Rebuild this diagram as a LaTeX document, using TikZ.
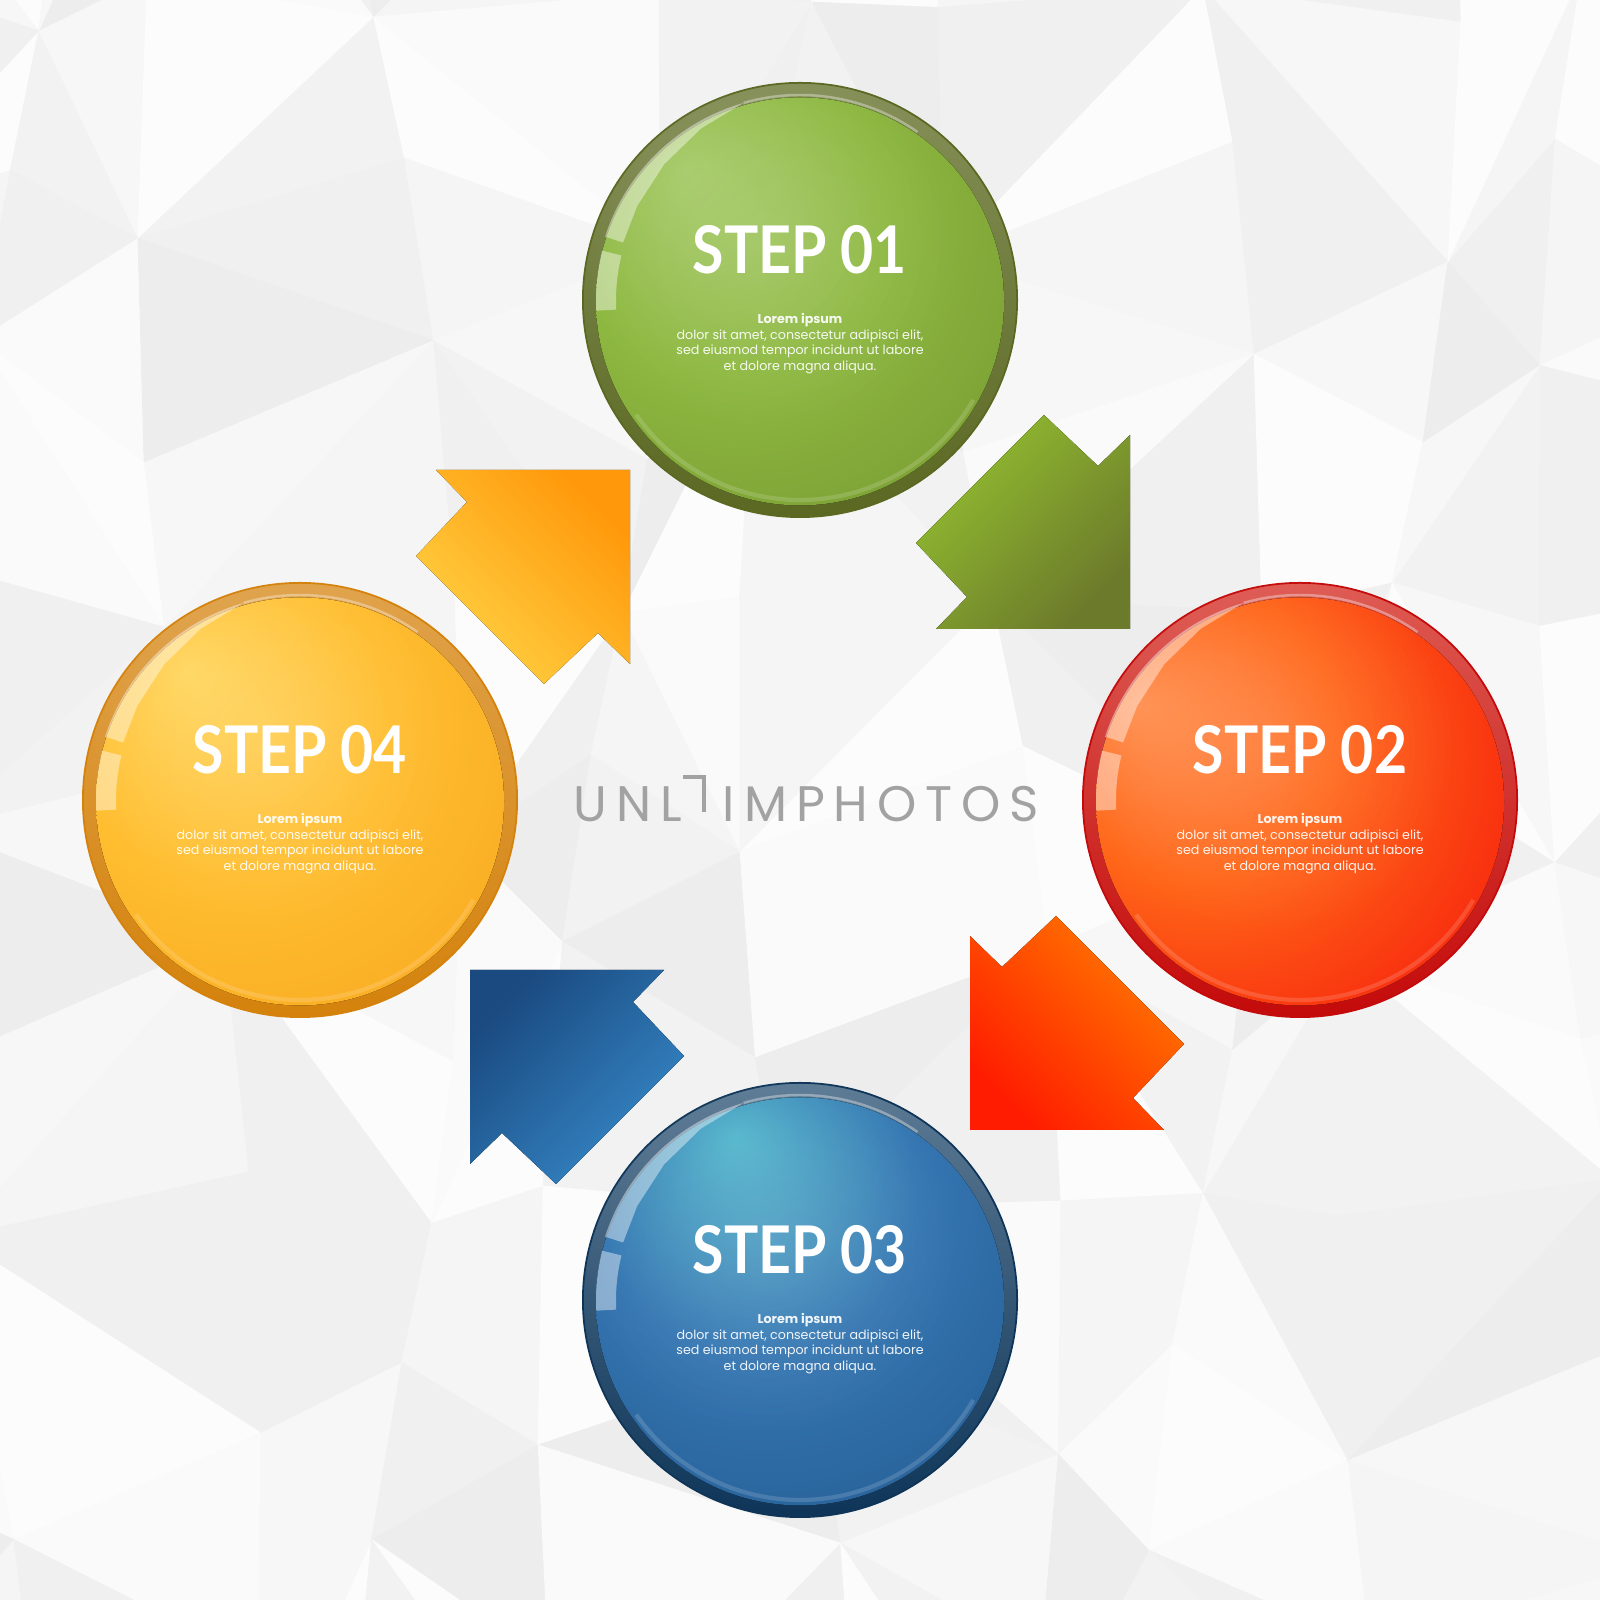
\documentclass[tikz,border=0pt]{standalone}
\usepackage{fontspec}
\setmainfont{Poppins}
\newfontfamily\stepfont[FakeStretch=0.87]{Lato}
\newfontfamily\wmfont[LetterSpace=18]{Poppins}
\usetikzlibrary{fadings}
\tikzfading[name=glowfade, inner color=transparent!0, outer color=transparent!100]
\definecolor{wmgray}{HTML}{A2A2A2}
% arrows
\definecolor{yarrA}{HTML}{FF980A}\definecolor{yarrB}{HTML}{FFD244}
\definecolor{garrA}{HTML}{92BE30}\definecolor{garrB}{HTML}{6C7A2B}
\definecolor{rarrA}{HTML}{FF7A00}\definecolor{rarrB}{HTML}{FF1C00}
\definecolor{barrA}{HTML}{1A4A80}\definecolor{barrB}{HTML}{3688C8}
% spheres
\definecolor{gRimT}{HTML}{858F58}\definecolor{gRimB}{HTML}{5A6822}
\definecolor{gTop}{HTML}{A6CA68}\definecolor{gMid}{HTML}{8DB840}\definecolor{gBot}{HTML}{789A32}\definecolor{gEdge}{HTML}{62792A}
\definecolor{rRimT}{HTML}{DE5A52}\definecolor{rRimB}{HTML}{C40A0A}
\definecolor{rTop}{HTML}{FF9050}\definecolor{rMid}{HTML}{FF6618}\definecolor{rBot}{HTML}{F82A0E}\definecolor{rEdge}{HTML}{DE1008}
\definecolor{bRimT}{HTML}{5C7A94}\definecolor{bRimB}{HTML}{0E3558}
\definecolor{bTop}{HTML}{52B6CC}\definecolor{bMid}{HTML}{3576B2}\definecolor{bBot}{HTML}{245C92}\definecolor{bEdge}{HTML}{1A4676}
\definecolor{yRimT}{HTML}{E0A24A}\definecolor{yRimB}{HTML}{D4820C}
\definecolor{yTop}{HTML}{FFD65E}\definecolor{yMid}{HTML}{FFBE30}\definecolor{yBot}{HTML}{F8A820}\definecolor{yEdge}{HTML}{EA9812}
\pgfdeclareradialshading{gball}{\pgfpoint{-14bp}{16bp}}{color(0bp)=(gTop); color(20bp)=(gMid); color(42bp)=(gBot); color(62bp)=(gEdge)}
\pgfdeclareradialshading{rball}{\pgfpoint{-20bp}{12bp}}{color(0bp)=(rTop); color(18bp)=(rMid); color(36bp)=(rBot); color(56bp)=(rEdge)}
\pgfdeclareradialshading{bball}{\pgfpoint{-8bp}{20bp}}{color(0bp)=(bTop); color(20bp)=(bMid); color(42bp)=(bBot); color(62bp)=(bEdge)}
\pgfdeclareradialshading{yball}{\pgfpoint{-14bp}{16bp}}{color(0bp)=(yTop); color(20bp)=(yMid); color(42bp)=(yBot); color(62bp)=(yEdge)}

\tikzset{
  ballrim/.style={circle, minimum size=4.34cm, inner sep=0pt, outer sep=0pt},
  steplabel/.style={text=white, font=\stepfont\bfseries\fontsize{18.7}{20}\selectfont, anchor=base, inner sep=0pt},
  bodytext/.style={text=white, text opacity=0.92, font=\fontsize{3.6}{4.4}\selectfont, align=center, anchor=north, inner sep=0pt},
  wmark/.style={text=wmgray, font=\wmfont\fontsize{14.2}{15}\selectfont, inner sep=0pt},
  glosshi/.style={white, opacity=0.42},
}

\newcommand\glossball[6]{%
  % #1 name, #2 centre, #3 rim top, #4 rim bottom, #5 ball shading, #6 number
  \node[ballrim, top color=#3, bottom color=#4, draw=#4, line width=0.5pt] (#1) at (#2) {};
  \fill[shading=#5] ([yshift=-0.4pt]#1.center) circle (204);
  \fill[white, opacity=0.12, path fading=glowfade] ([shift={(-30,55)}]#1.center) circle (190);
  \fill[glosshi] ([shift={(106:205)}]#1.center) arc[start angle=106,end angle=162,radius=205]
     -- ([shift={(162:186)}]#1.center) -- ([shift={(150:188)}]#1.center) -- ([shift={(135:192)}]#1.center)
     -- ([shift={(120:198)}]#1.center) -- cycle;
  \fill[glosshi] ([shift={(166:204)}]#1.center) arc[start angle=166,end angle=183,radius=204]
     -- ([shift={(183:184)}]#1.center) arc[start angle=183,end angle=166,radius=184] -- cycle;
  \draw[white, opacity=0.35, line width=0.7pt] ([shift={(55:205)}]#1.center) arc[start angle=55,end angle=106,radius=205];
  \draw[white, opacity=0.15, line width=1.2pt] ([shift={(215:200)}]#1.center) arc[start angle=215,end angle=330,radius=200];
  \node[steplabel] (#1t) at ([yshift=7.4pt]#1.center) {STEP 0#6};
  \node[bodytext] (#1b) at ([yshift=-3.7pt]#1.center) {\textbf{Lorem ipsum}\\dolor sit amet, consectetur adipisci elit,\\sed eiusmod tempor incidunt ut labore\\et dolore magna aliqua.};
}

\begin{document}
\begin{tikzpicture}[x=0.01cm, y=0.01cm,
  declare function={jx(\a,\b)=62*sin(97*\a+331*\b+13); jy(\a,\b)=62*cos(173*\a+59*\b+7);}]
\useasboundingbox (0,0) rectangle (1600,1600);
% background low-poly
\begin{scope}
\clip (0,0) rectangle (1600,1600);
\fill[white!96!black] (0,0) rectangle (1600,1600);
\foreach \i in {-1,...,8}{
  \foreach \j in {-1,...,8}{
    \pgfmathtruncatemacro\ga{96.6+2.8*sin(123*\i+77*\j+31)}
    \pgfmathtruncatemacro\gb{96.6+2.8*cos(61*\i+143*\j+5)}
    \pgfmathtruncatemacro\parity{mod(\i+\j+10,2)}
    \coordinate (A) at ({200*\i+jx(\i,\j)},{200*\j+jy(\i,\j)});
    \coordinate (B) at ({200*(\i+1)+jx(\i+1,\j)},{200*\j+jy(\i+1,\j)});
    \coordinate (C) at ({200*(\i+1)+jx(\i+1,\j+1)},{200*(\j+1)+jy(\i+1,\j+1)});
    \coordinate (D) at ({200*\i+jx(\i,\j+1)},{200*(\j+1)+jy(\i,\j+1)});
    \ifnum\parity=0
      \fill[fill=white!\ga!black, draw=white!\ga!black, line width=0.3pt] (A) -- (B) -- (C) -- cycle;
      \fill[fill=white!\gb!black, draw=white!\gb!black, line width=0.3pt] (A) -- (C) -- (D) -- cycle;
    \else
      \fill[fill=white!\ga!black, draw=white!\ga!black, line width=0.3pt] (A) -- (B) -- (D) -- cycle;
      \fill[fill=white!\gb!black, draw=white!\gb!black, line width=0.3pt] (B) -- (C) -- (D) -- cycle;
    \fi
  }}
\end{scope}

% watermark
\node[wmark, anchor=base west] (wm1) at (573,778) {UNL};
\node[wmark, anchor=base east] (wm2) at (1040,778) {IMPHOTOS};
\draw[wmgray, line width=1.15pt] (683,823) -- (704,823) -- (704,788);

% arrows
\begin{scope}[shift={(630,1130)}]
\fill[top color=yarrA, bottom color=yarrB, shading angle=-45]
  (0,0) -- (-194,0) -- (-163,-32) -- (-214,-86) -- (-86,-214) -- (-32,-163) -- (0,-194) -- cycle;
\end{scope}
\begin{scope}[shift={(1130,971)}]
\fill[top color=garrA, bottom color=garrB, shading angle=45]
  (0,0) -- (0,194) -- (-32,163) -- (-86,214) -- (-214,86) -- (-163,32) -- (-194,0) -- cycle;
\end{scope}
\begin{scope}[shift={(970,470)}]
\fill[top color=rarrA, bottom color=rarrB, shading angle=-45]
  (0,0) -- (194,0) -- (163,32) -- (214,86) -- (86,214) -- (32,163) -- (0,194) -- cycle;
\end{scope}
\begin{scope}[shift={(470,630)}]
\fill[top color=barrA, bottom color=barrB, shading angle=45]
  (0,0) -- (0,-194) -- (32,-163) -- (86,-214) -- (214,-86) -- (163,-32) -- (194,0) -- cycle;
\end{scope}

% spheres
\glossball{s1}{800,1300}{gRimT}{gRimB}{gball}{1}
\glossball{s2}{1300,800}{rRimT}{rRimB}{rball}{2}
\glossball{s3}{800,300}{bRimT}{bRimB}{bball}{3}
\glossball{s4}{300,800}{yRimT}{yRimB}{yball}{4}
\end{tikzpicture}
\end{document}
